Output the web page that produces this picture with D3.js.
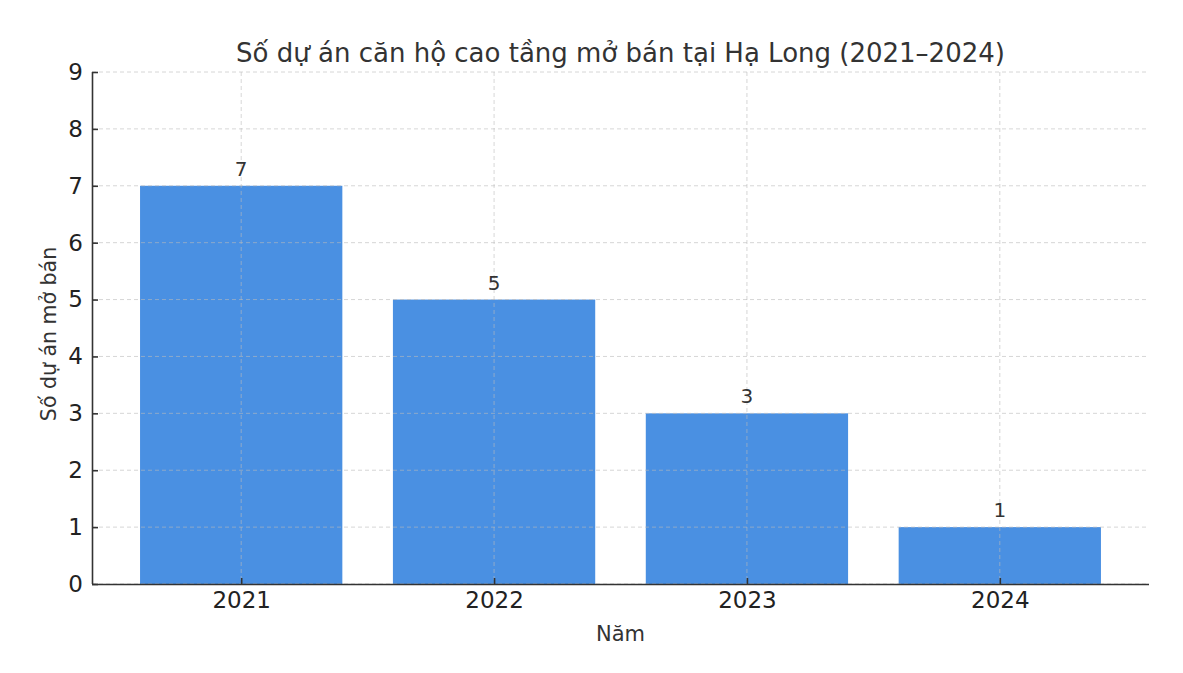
<!DOCTYPE html>
<html><head><meta charset="utf-8">
<script src="https://cdn.jsdelivr.net/npm/d3@7"></script>
<style>body{margin:0;background:#fff}svg{display:block}text{font-family:"DejaVu Sans",sans-serif}</style>
</head><body>
<svg id="c" width="1183" height="673"></svg>
<script>
const categories = ["2021","2022","2023","2024"];
const values = [7,5,3,1];
const yTicks = [0,1,2,3,4,5,6,7,8,9];
const title = "Số dự án căn hộ cao tầng mở bán tại Hạ Long (2021–2024)";
const xLabel = "Năm";
const yLabel = "Số dự án mở bán";

const svg = d3.select("#c");
const L=92,R=1149,T=72,B=584;
const x = d3.scaleLinear().domain([-0.59, categories.length-1+0.59]).range([L,R]);
const y = d3.scaleLinear().domain([0,9]).range([B,T]);
const bw = 0.8;
const ink="#333";

// bars
svg.selectAll("rect.bar").data(values).enter().append("rect")
  .attr("x",(d,i)=>x(i-bw/2)).attr("width",(d,i)=>x(i+bw/2)-x(i-bw/2))
  .attr("y",d=>y(d)).attr("height",d=>B-y(d)).attr("fill","#4a90e2");

// grid
const g = svg.append("g");
g.selectAll("line.h").data(yTicks).enter().append("line")
  .attr("x1",L).attr("x2",R).attr("y1",d=>y(d)).attr("y2",d=>y(d))
  .attr("stroke","#bbb").attr("stroke-opacity",0.6).attr("stroke-dasharray","4,3").attr("stroke-width",1);
g.selectAll("line.v").data(categories).enter().append("line")
  .attr("x1",(d,i)=>x(i)).attr("x2",(d,i)=>x(i)).attr("y1",T).attr("y2",B)
  .attr("stroke","#bbb").attr("stroke-opacity",0.6).attr("stroke-dasharray","4,3").attr("stroke-width",1);

// axes
const yAxis = d3.axisLeft(y).tickValues(yTicks).tickSize(-6).tickPadding(9).tickSizeOuter(0);
const ya = svg.append("g").attr("transform",`translate(${L},0)`).call(yAxis);
const xAxis = d3.axisBottom(x).tickValues(d3.range(categories.length)).tickFormat(i=>categories[i]).tickSize(-6).tickPadding(8).tickSizeOuter(0);
const xa = svg.append("g").attr("transform",`translate(0,${B})`).call(xAxis);
[ya,xa].forEach(a=>{
  a.select(".domain").attr("stroke",ink).attr("stroke-width",1.6);
  a.selectAll(".tick line").attr("stroke",ink).attr("stroke-width",1.6);
  a.selectAll(".tick text").attr("fill","#222").style("font-size","23px").style("font-family","DejaVu Sans");
});
xa.select(".domain").attr("d",`M${L},0.5H${R}`);
ya.select(".domain").attr("d",`M0.5,${B}V${T}`);

// value labels
svg.selectAll("text.val").data(values).enter().append("text")
  .attr("x",(d,i)=>x(i)).attr("y",d=>y(d)-10).attr("text-anchor","middle")
  .attr("fill",ink).style("font-size","20px").text(d=>d);

svg.append("text").attr("x",(L+R)/2).attr("y",62).attr("text-anchor","middle")
  .attr("fill",ink).style("font-size","26px").text(title);
svg.append("text").attr("x",(L+R)/2).attr("y",641).attr("text-anchor","middle")
  .attr("fill",ink).style("font-size","21px").text(xLabel);
svg.append("text").attr("transform",`translate(56,${(T+B)/2+6}) rotate(-90)`).attr("text-anchor","middle")
  .attr("fill",ink).style("font-size","20.5px").text(yLabel);
</script>
</body></html>
